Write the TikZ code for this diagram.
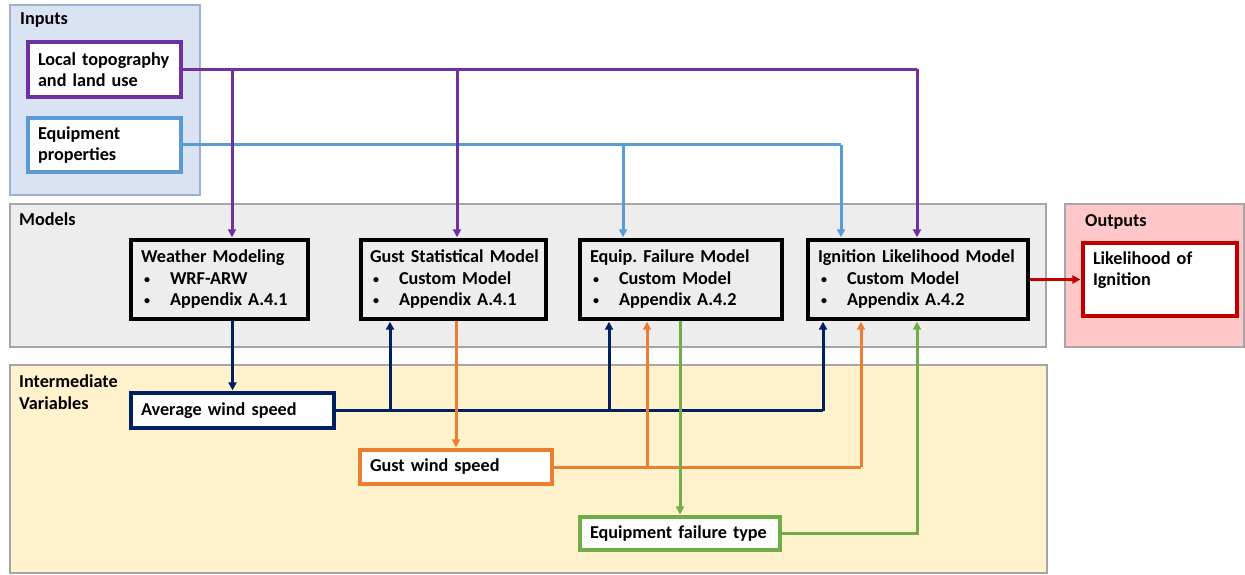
\documentclass[tikz,border=0pt]{standalone}
\usepackage{fontspec}
\setmainfont{Carlito}
\usetikzlibrary{arrows.meta}
\definecolor{cPur}{HTML}{7030A0}
\definecolor{cBlu}{HTML}{5B9BD5}
\definecolor{cNav}{HTML}{002060}
\definecolor{cOra}{HTML}{ED7D31}
\definecolor{cGre}{HTML}{70AD47}
\definecolor{cRed}{HTML}{C00000}
\definecolor{fIn}{HTML}{DAE3F3}
\definecolor{bIn}{HTML}{9DB0D0}
\definecolor{fMod}{HTML}{EDEDED}
\definecolor{fOut}{HTML}{FFC7C7}
\definecolor{fInt}{HTML}{FFF2CC}
\definecolor{bPan}{HTML}{A6A6A6}
\frenchspacing
\newcommand{\bitem}[1]{\makebox[29pt][l]{\hspace{3pt}\raisebox{1pt}{\fontsize{12}{12}\selectfont\textbullet}}#1}
\begin{document}
\begin{tikzpicture}[x=1pt,y=-1pt,
  font=\fontsize{18.2}{21.5}\selectfont\bfseries,
  panel/.style={line width=1.6pt, draw=bPan},
  plabel/.style={anchor=base west, inner sep=0pt, align=left},
  mbox/.style={rectangle, draw=black, line width=3.4pt, fill=fMod, inner xsep=10pt, inner ysep=0pt, align=left, anchor=center},
  wbox/.style={rectangle, line width=3.2pt, fill=white, inner xsep=10pt, inner ysep=0pt, align=left, anchor=center},
  conn/.style={line width=3pt},
  arr/.style={conn, -{Triangle[length=8pt,width=8pt]}, shorten >=1pt},
]
\useasboundingbox (0,0) rectangle (1245,575);
% panels
\filldraw[panel, fill=fIn, draw=bIn] (10,5) rectangle (200,195);
\filldraw[panel, fill=fMod] (10,204) rectangle (1046,347);
\filldraw[panel, fill=fOut] (1065,204) rectangle (1244,347);
\filldraw[panel, fill=fInt] (10,365) rectangle (1047,573);
\node[plabel] (linputs) at (20,25) {Inputs};
\node[plabel] (lmodels) at (19,225) {Models};
\node[plabel] (loutputs) at (1085,226) {Outputs};
\node[plabel] (linter) at (19,409) {Intermediate\\Variables};
% input boxes
\node[wbox, draw=cPur, text width=133pt, minimum height=55pt] (topo) at (104.5,69.5) {Local topography\\and land use};
\node[wbox, draw=cBlu, text width=133pt, minimum height=54pt] (equip) at (104.5,145) {Equipment\\properties};
% model boxes
\node[mbox, text width=157pt, minimum height=79pt] (weather) at (219.5,279.5) {\mbox{Weather Modeling}\\\bitem{WRF-ARW}\\\bitem{Appendix A.4.1}};
\node[mbox, inner xsep=9pt, text width=167pt, minimum height=79pt] (gmodel) at (453.5,279.5) {\mbox{Gust Statistical Model}\\\bitem{Custom Model}\\\bitem{Appendix A.4.1}};
\node[mbox, text width=182pt, minimum height=79pt] (emodel) at (681,279.5) {\mbox{Equip. Failure Model}\\\bitem{Custom Model}\\\bitem{Appendix A.4.2}};
\node[mbox, text width=200pt, minimum height=79pt] (ign) at (918,279.5) {\mbox{Ignition Likelihood Model}\\\bitem{Custom Model}\\\bitem{Appendix A.4.2}};
% output box
\node[wbox, draw=cRed, text width=134pt, minimum height=73pt] (like) at (1160,279.5) {Likelihood of\\Ignition\\\mbox{}};
% intermediate boxes
\node[wbox, draw=cNav, text width=183pt, minimum height=35pt] (avg) at (232.5,410.5) {Average wind speed};
\node[wbox, draw=cOra, text width=172pt, minimum height=34pt] (gws) at (456,467) {Gust wind speed};
\node[wbox, draw=cGre, text width=180pt, minimum height=33pt] (eft) at (680,533.5) {Equipment failure type};
% junction coordinates
\coordinate (pj1) at (232,69.5);
\coordinate (pj2) at (457,69.5);
\coordinate (pj3) at (917,69.5);
\coordinate (bj1) at (623,145);
\coordinate (bj2) at (841,145);
\coordinate (nj1) at (390,410.5);
\coordinate (nj2) at (609,410.5);
\coordinate (nj3) at (823,410.5);
\coordinate (oj1) at (647,467);
\coordinate (oj2) at (861,467);
\coordinate (gj1) at (917,533.5);
% blue connectors
\draw[conn, cBlu] (equip.east) -- (bj2);
\draw[arr, cBlu] (bj1) -- (bj1 |- emodel.north);
\draw[arr, cBlu] (bj2) -- (bj2 |- ign.north);
% purple connectors
\draw[conn, cPur] (topo.east) -- (pj3);
\draw[arr, cPur] (pj1) -- (pj1 |- weather.north);
\draw[arr, cPur] (pj2) -- (pj2 |- gmodel.north);
\draw[arr, cPur] (pj3) -- (pj3 |- ign.north);
% navy connectors
\draw[arr, cNav] (avg.north |- weather.south) -- (avg.north);
\draw[conn, cNav] (avg.east) -- (nj3);
\draw[arr, cNav] (nj1) -- (nj1 |- gmodel.south);
\draw[arr, cNav] (nj2) -- (nj2 |- emodel.south);
\draw[arr, cNav] (nj3) -- (nj3 |- ign.south);
% orange connectors
\draw[arr, cOra] (gws.north |- gmodel.south) -- (gws.north);
\draw[conn, cOra] (gws.east) -- (oj2);
\draw[arr, cOra] (oj1) -- (oj1 |- emodel.south);
\draw[arr, cOra] (oj2) -- (oj2 |- ign.south);
% green connectors
\draw[arr, cGre] (eft.north |- emodel.south) -- (eft.north);
\draw[arr, cGre] (eft.east) -| (ign.south -| gj1);
% red connector
\draw[arr, cRed] (ign.east) -- (like.west);
\end{tikzpicture}
\end{document}
